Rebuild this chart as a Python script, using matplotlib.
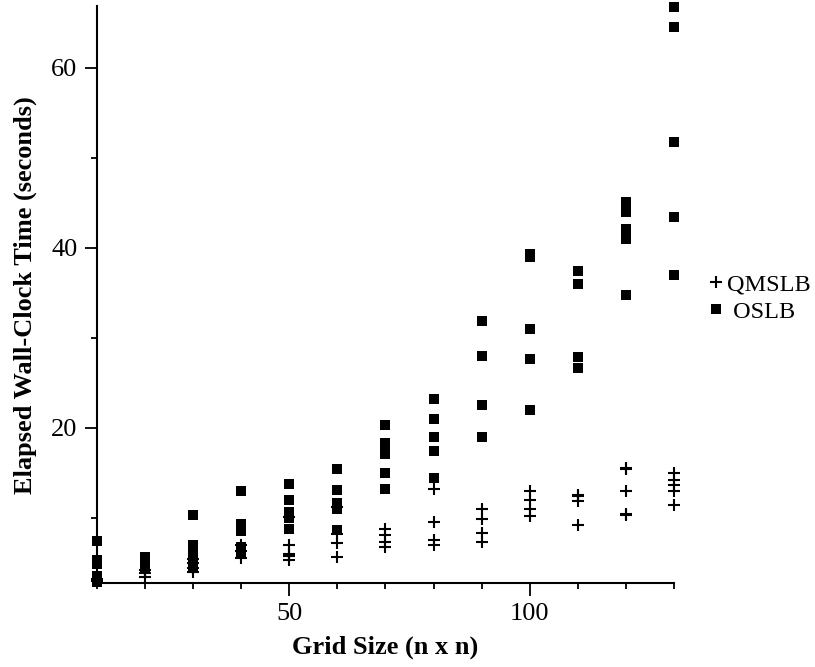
import matplotlib
matplotlib.use("Agg")
import matplotlib.pyplot as plt
from matplotlib.lines import Line2D
from matplotlib.ticker import MultipleLocator

# grid sizes (n) and timings
qmslb_x = [10, 10, 10,
           20, 20, 20,
           30, 30, 30, 30,
           40, 40, 40,
           50, 50, 50, 50, 50,
           60, 60, 60, 60,
           70, 70, 70, 70,
           80, 80, 80, 80,
           90, 90, 90, 90,
           100, 100, 100, 100,
           110, 110, 110, 110,
           120, 120, 120, 120, 120,
           130, 130, 130, 130, 130]
qmslb_y = [3.0, 3.2, 2.9,
           4.2, 3.8, 3.4,
           5.4, 4.9, 4.4, 4.0,
           6.9, 6.3, 5.5,
           10.1, 7.0, 6.0, 5.7, 5.3,
           11.2, 8.2, 7.2, 5.6,
           8.7, 8.1, 7.3, 6.7,
           13.2, 9.5, 7.5, 6.9,
           10.9, 9.8, 8.3, 7.3,
           12.9, 12.0, 11.0, 10.2,
           12.5, 12.4, 11.8, 9.2,
           15.5, 15.4, 12.9, 10.4, 10.3,
           14.9, 14.2, 13.6, 12.9, 11.4]

oslb_x = [10, 10, 10, 10, 10,
          20, 20, 20,
          30, 30, 30, 30, 30,
          40, 40, 40, 40, 40,
          50, 50, 50, 50, 50,
          60, 60, 60, 60, 60,
          70, 70, 70, 70, 70, 70,
          80, 80, 80, 80, 80,
          90, 90, 90, 90,
          100, 100, 100, 100, 100,
          110, 110, 110, 110,
          120, 120, 120, 120, 120,
          130, 130, 130, 130, 130]
oslb_y = [7.4, 5.3, 4.8, 3.5, 2.8,
          5.6, 5.0, 4.5,
          10.3, 7.0, 6.0, 5.2, 4.6,
          12.9, 9.3, 8.5, 6.7, 6.2,
          13.7, 11.9, 10.6, 10.0, 8.7,
          15.4, 13.1, 11.6, 10.9, 8.6,
          20.3, 18.3, 17.7, 17.1, 15.0, 13.2,
          23.2, 20.9, 18.9, 17.4, 14.4,
          31.8, 27.9, 22.5, 18.9,
          39.3, 38.9, 31.0, 27.6, 22.0,
          37.4, 35.9, 27.8, 26.6,
          45.1, 43.9, 42.1, 40.9, 34.7,
          66.7, 64.5, 51.7, 43.4, 36.9]

plt.rcParams['font.family'] = ['Liberation Serif', 'DejaVu Serif']

fig = plt.figure(figsize=(8.15, 6.67), dpi=100)
ax = fig.add_axes([0.119, 0.1255, 0.708, 0.865])

ax.plot(qmslb_x, qmslb_y, linestyle='none', marker='+', color='black',
        markersize=8.6, markeredgewidth=1.5, clip_on=False)
ax.plot(oslb_x, oslb_y, linestyle='none', marker='s', color='black',
        markersize=7.6, markeredgewidth=0, clip_on=False)

ax.set_xlim(10, 130)
ax.set_ylim(2.7, 66.8)

ax.xaxis.set_major_locator(MultipleLocator(50))
ax.xaxis.set_minor_locator(MultipleLocator(10))
ax.yaxis.set_major_locator(MultipleLocator(20))
ax.yaxis.set_minor_locator(MultipleLocator(10))

for s in ['top', 'right']:
    ax.spines[s].set_visible(False)
for s in ['left', 'bottom']:
    ax.spines[s].set_linewidth(1.5)

ax.tick_params(which='major', length=9, width=1.3, labelsize=19, pad=5)
ax.tick_params(which='minor', length=4, width=1.3)

ax.set_xlabel('Grid Size (n x n)', fontsize=19, fontweight='bold', labelpad=8)
ax.set_ylabel('Elapsed Wall-Clock Time (seconds)', fontsize=19,
              fontweight='bold', labelpad=10)

handles = [
    Line2D([], [], linestyle='none', marker='+', color='black',
           markersize=8.6, markeredgewidth=1.5, label='QMSLB'),
    Line2D([], [], linestyle='none', marker='s', color='black',
           markersize=7.6, markeredgewidth=0, label=' OSLB'),
]
fig.legend(handles=handles, loc='center left', bbox_to_anchor=(0.856, 0.553),
           frameon=False, fontsize=17.5, handlelength=0.5, handletextpad=0.2,
           labelspacing=0.2, borderpad=0)

fig.savefig('out.png', dpi=100, facecolor='white')
